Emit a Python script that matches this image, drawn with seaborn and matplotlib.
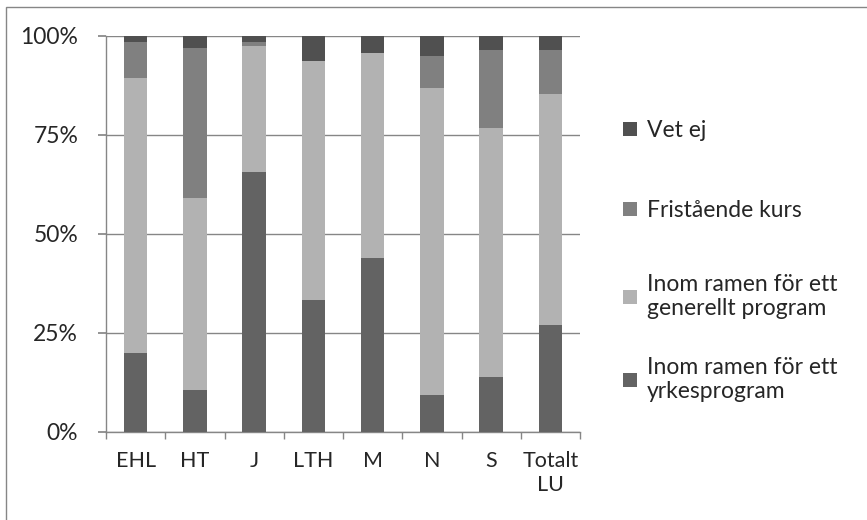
import numpy as np
import pandas as pd
import seaborn as sns
import matplotlib.pyplot as plt
from matplotlib.patches import Rectangle, Patch
from matplotlib.ticker import FixedLocator

# Categories and shares (percent)
categories = ['EHL', 'HT', 'J', 'LTH', 'M', 'N', 'S', 'Totalt\nLU']
yrkesprogram = [20.0, 10.6, 65.7, 33.2, 43.9, 9.3, 13.8, 27.0]
generellt = [69.3, 48.4, 31.6, 60.5, 51.8, 77.6, 62.9, 58.4]
fristaende = [9.0, 38.0, 1.2, 0.0, 0.0, 8.0, 19.6, 10.9]
vet_ej = [1.7, 3.0, 1.5, 6.3, 4.3, 5.1, 3.7, 3.7]

series_names = [
    'Inom ramen för ett\nyrkesprogram',
    'Inom ramen för ett\ngenerellt program',
    'Fristående kurs',
    'Vet ej',
]
series_values = [yrkesprogram, generellt, fristaende, vet_ej]
series_colors = ['#636363', '#b2b2b2', '#808080', '#505050']

W, H = 867, 520
sns.set_theme(style='white')
plt.rcParams['font.family'] = ['Lato', 'DejaVu Sans']

fig, ax = plt.subplots(figsize=(W / 100, H / 100), dpi=100)
fig.subplots_adjust(left=106 / W, right=580 / W, top=1 - 35.7 / H,
                    bottom=1 - 432 / H)

# Stacked bars, bottom to top
bottom = np.zeros(len(categories))
for name, vals, col in zip(series_names, series_values, series_colors):
    data = pd.DataFrame({'cat': categories, 'val': vals})
    sns.barplot(data=data, x='cat', y='val', ax=ax, color=col, width=0.4,
                bottom=bottom, saturation=1, edgecolor='none', zorder=3)
    bottom = bottom + np.array(vals)

ax.set_ylim(0, 100)
ax.set_xlim(-0.5, len(categories) - 0.5)
ax.set_yticks([0, 25, 50, 75, 100])
ax.set_yticklabels(['0%', '25%', '50%', '75%', '100%'], fontsize=16.5)
ax.set_xlabel('')
ax.set_ylabel('')
ax.tick_params(axis='x', which='major', length=0, labelsize=15.5, pad=14)
for t in ax.get_xticklabels():
    t.set_linespacing(1.2)
ax.xaxis.set_minor_locator(FixedLocator(np.arange(-0.5, len(categories), 1)))
ax.tick_params(axis='x', which='minor', length=5, color='#868686',
               direction='out', bottom=True)
ax.tick_params(axis='y', length=6, color='#868686', direction='out', left=True,
               pad=14)
ax.yaxis.grid(True, color='#868686', linewidth=1, zorder=0)
ax.set_axisbelow(True)
for s in ['top', 'right']:
    ax.spines[s].set_visible(False)
for s in ['left', 'bottom']:
    ax.spines[s].set_color('#868686')
    ax.spines[s].set_linewidth(1)

# Legend entries, one per slot (top entry first), as in the reference
legend_tops = [120, 200, 274, 357]
for name, col, top in zip(series_names[::-1], series_colors[::-1], legend_tops):
    leg = fig.legend([Patch(facecolor=col, edgecolor='none')], [name],
                     loc='upper left', bbox_to_anchor=(623 / W, 1 - top / H),
                     frameon=False, fontsize=16.5, handlelength=0.6,
                     handleheight=0.6, handletextpad=0.45, borderpad=0,
                     borderaxespad=0)
    for t in leg.get_texts():
        t.set_linespacing(1.2)

# Outer chart border
fig.patches.append(Rectangle((6 / W, -0.1), 1.2, 1 - 7 / H + 0.1,
                             transform=fig.transFigure, fill=False,
                             edgecolor='#868686', linewidth=1))

plt.savefig('out.png', dpi=100)
